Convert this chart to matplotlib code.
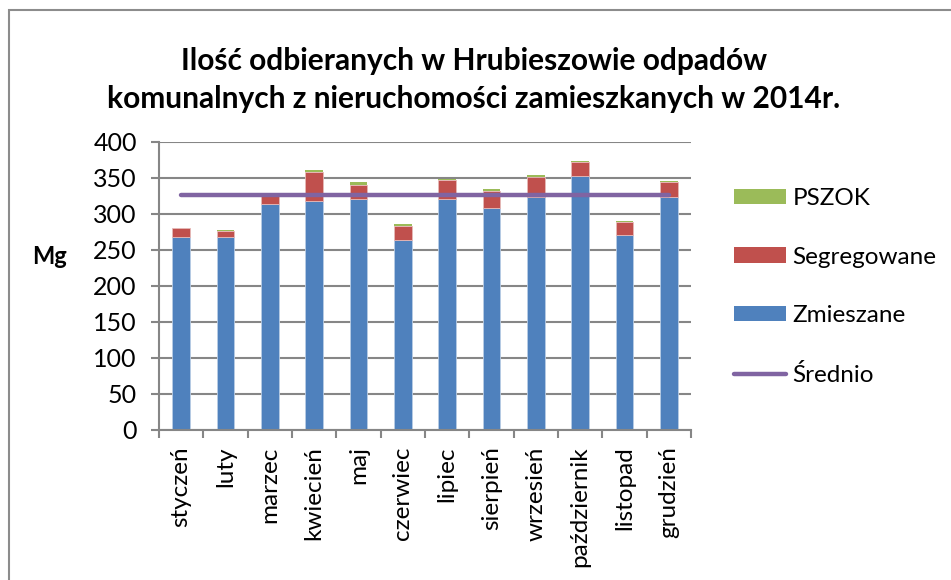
import matplotlib
matplotlib.use("Agg")
import matplotlib.pyplot as plt
from matplotlib.patches import Rectangle, Patch
from matplotlib.lines import Line2D
import numpy as np

plt.rcParams['font.family'] = ['Lato', 'DejaVu Sans']

months = ["styczeń", "luty", "marzec", "kwiecień", "maj", "czerwiec",
          "lipiec", "sierpień", "wrzesień", "październik", "listopad", "grudzień"]
zmieszane = [268, 267, 314, 318, 321, 264, 321, 308, 323, 352, 270, 323]
segregowane = [11.5, 9.5, 12, 40, 19.5, 19, 25.5, 24, 28, 19.5, 19, 21.5]
pszok = [0.8, 1.4, 0.5, 2.5, 3.2, 2.4, 2.3, 2.3, 3.0, 1.4, 1.4, 0.5]
srednio = 326.5

c_blue = "#4F81BD"
c_red = "#C0504D"
c_green = "#9BBB59"
c_purple = "#8064A2"
grid_c = "#868686"

W, H = 951, 580
fig = plt.figure(figsize=(W / 100, H / 100), dpi=100)
fig.patch.set_facecolor("white")

# chart border
fig.patches.append(Rectangle((9 / W, -0.05), 1.1, (H - 10) / H + 0.05,
                             transform=fig.transFigure, fill=False,
                             edgecolor="#8c8c8c", linewidth=1.5))

ax = fig.add_axes([159 / W, (H - 429.7) / H, (691 - 159) / W, (429.7 - 141.7) / H])
x = np.arange(len(months))
bw = 0.4
b = np.array(zmieszane)
s = np.array(segregowane)
ax.bar(x, b, bw, color=c_blue, edgecolor="#b9cde5", linewidth=0.6, zorder=2)
ax.bar(x, s, bw, bottom=b, color=c_red, edgecolor="#e6b9b8", linewidth=0.6, zorder=2)
ax.bar(x, pszok, bw, bottom=b + s, color=c_green, edgecolor="none", zorder=2)
ax.plot([x[0], x[-1]], [srednio, srednio], color=c_purple, linewidth=3.2,
        solid_capstyle="round", zorder=3)

ax.set_xlim(-0.5, len(months) - 0.5)
ax.set_ylim(0, 400)
ax.set_yticks(range(0, 401, 50))
ax.yaxis.grid(True, color=grid_c, linewidth=1.5, zorder=0)
ax.set_axisbelow(True)
for sp in ["top", "right"]:
    ax.spines[sp].set_visible(False)
for sp in ["left", "bottom"]:
    ax.spines[sp].set_color(grid_c)
    ax.spines[sp].set_linewidth(1.5)

ax.set_xticks(x)
ax.set_xticklabels(months, rotation=90, fontsize=17.5)
ax.set_xticks(np.arange(-0.5, len(months), 1), minor=True)
ax.tick_params(axis="x", which="major", length=0, pad=12)
ax.tick_params(axis="x", which="minor", length=6, width=1.5, color=grid_c, direction="out")
ax.tick_params(axis="y", length=6, width=1.5, color=grid_c, labelsize=18, pad=10)

ax.set_ylabel("Mg", fontsize=17, fontweight="bold", rotation=0, va="center")
ax.yaxis.set_label_coords(-0.205, 0.6)

fig.text(474 / W, 1 - 61 / H, "Ilość odbieranych w Hrubieszowie odpadów",
         ha="center", va="center", fontsize=21.5, fontweight="bold")
fig.text(474 / W, 1 - 99 / H, "komunalnych z nieruchomości zamieszkanych w 2014r.",
         ha="center", va="center", fontsize=21.5, fontweight="bold")

handles = [Patch(facecolor=c_green, edgecolor="none"),
           Patch(facecolor=c_red, edgecolor="none"),
           Patch(facecolor=c_blue, edgecolor="none"),
           Line2D([0], [0], color=c_purple, linewidth=3.2, solid_capstyle="round")]
labels = ["PSZOK", "Segregowane", "Zmieszane", "Średnio"]
fig.legend(handles, labels, loc="upper left", bbox_to_anchor=(734 / W, 1 - 188 / H),
           frameon=False, fontsize=17.5, handlelength=2.15, handleheight=0.6,
           handletextpad=0.25, labelspacing=1.55, borderaxespad=0, borderpad=0)

fig.savefig("out.png", dpi=100)
